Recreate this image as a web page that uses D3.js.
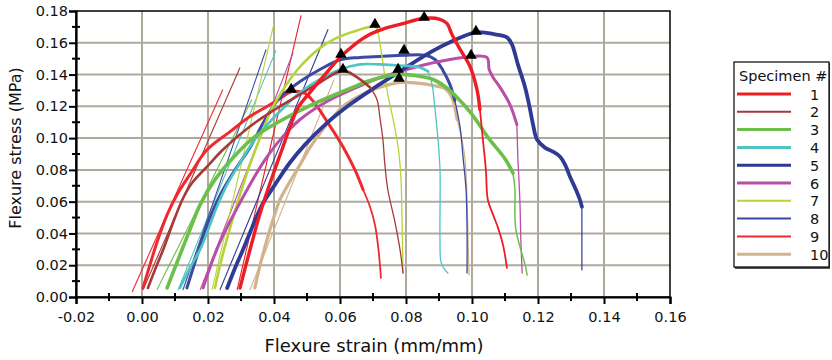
<!DOCTYPE html>
<html>
<head>
<meta charset="utf-8">
<script src="https://cdn.jsdelivr.net/npm/d3@7"></script>
<style>
  body { margin: 0; background: #fff; }
  text { font-family: "DejaVu Sans", Verdana, sans-serif; fill: #111; }
</style>
</head>
<body>
<div id="canvas"></div>
<script>
"use strict"

// tick labels and specimen names
const xTicks = [-0.02, 0.00, 0.02, 0.04, 0.06, 0.08, 0.10, 0.12, 0.14, 0.16];
const yTicks = [0.00, 0.02, 0.04, 0.06, 0.08, 0.10, 0.12, 0.14, 0.16, 0.18];
const specimens = ["1", "2", "3", "4", "5", "6", "7", "8", "9", "10"];

// stress-strain curves, [strain, stress]
const curve1 = [[0.0297,0.0057],[0.0315,0.0202],[0.0333,0.0341],[0.0352,0.0486],[0.0373,0.0625],[0.0397,0.0770],[0.0424,0.0927],[0.0448,0.1066],[0.0473,0.1192],[0.0509,0.1287],[0.0555,0.1401],[0.0600,0.1508],[0.0645,0.1590],[0.0691,0.1653],[0.0736,0.1691],[0.0782,0.1716],[0.0855,0.1754],[0.0903,0.1748],[0.0924,0.1722],[0.0939,0.1653],[0.0964,0.1558],[0.0994,0.1451],[0.1015,0.1306],[0.1024,0.1180],[0.1033,0.0991],[0.1042,0.0801],[0.1048,0.0612],[0.1064,0.0517],[0.1079,0.0435],[0.1094,0.0328],[0.1106,0.0183]];
const curve2 = [[0.0018,0.0057],[0.0039,0.0170],[0.0064,0.0297],[0.0100,0.0500],[0.0124,0.0620],[0.0152,0.0719],[0.0197,0.0820],[0.0245,0.0927],[0.0327,0.1073],[0.0403,0.1180],[0.0479,0.1275],[0.0539,0.1350],[0.0609,0.1425],[0.0652,0.1382],[0.0691,0.1319],[0.0712,0.1243],[0.0721,0.1129],[0.0730,0.0991],[0.0736,0.0833],[0.0745,0.0675],[0.0767,0.0467],[0.0782,0.0297],[0.0791,0.0151]];
const curve3 = [[0.0076,0.0057],[0.0109,0.0233],[0.0145,0.0423],[0.0176,0.0580],[0.0221,0.0738],[0.0276,0.0877],[0.0342,0.1009],[0.0427,0.1117],[0.0509,0.1205],[0.0579,0.1268],[0.0630,0.1312],[0.0682,0.1356],[0.0736,0.1388],[0.0776,0.1401],[0.0827,0.1394],[0.0882,0.1369],[0.0918,0.1325],[0.0955,0.1256],[0.1000,0.1150],[0.1050,0.1000],[0.1100,0.0870],[0.1124,0.0780],[0.1130,0.0680],[0.1130,0.0520],[0.1133,0.0423],[0.1148,0.0297],[0.1161,0.0202],[0.1167,0.0139]];
const curve4 = [[0.0115,0.0057],[0.0145,0.0183],[0.0176,0.0297],[0.0206,0.0454],[0.0227,0.0568],[0.0258,0.0707],[0.0297,0.0845],[0.0342,0.0991],[0.0388,0.1104],[0.0433,0.1199],[0.0479,0.1287],[0.0539,0.1369],[0.0600,0.1432],[0.0661,0.1464],[0.0721,0.1464],[0.0782,0.1457],[0.0842,0.1445],[0.0867,0.1420],[0.0879,0.1338],[0.0888,0.1180],[0.0897,0.0991],[0.0903,0.0801],[0.0903,0.0360],[0.0906,0.0221],[0.0918,0.0170],[0.0927,0.0151]];
const curve5 = [[0.0258,0.0057],[0.0282,0.0183],[0.0306,0.0297],[0.0333,0.0435],[0.0364,0.0580],[0.0403,0.0707],[0.0448,0.0845],[0.0494,0.0959],[0.0555,0.1085],[0.0630,0.1211],[0.0706,0.1319],[0.0782,0.1420],[0.0858,0.1521],[0.0933,0.1603],[0.1012,0.1666],[0.1070,0.1653],[0.1106,0.1634],[0.1121,0.1590],[0.1139,0.1464],[0.1161,0.1319],[0.1176,0.1180],[0.1185,0.1085],[0.1197,0.0991],[0.1221,0.0940],[0.1245,0.0915],[0.1267,0.0883],[0.1282,0.0833],[0.1297,0.0757],[0.1315,0.0675],[0.1327,0.0612],[0.1333,0.0568],[0.1333,0.0360],[0.1333,0.0170]];
const curve6 = [[0.0185,0.0057],[0.0212,0.0221],[0.0242,0.0372],[0.0282,0.0536],[0.0327,0.0707],[0.0373,0.0864],[0.0424,0.1003],[0.0479,0.1117],[0.0555,0.1224],[0.0630,0.1300],[0.0706,0.1369],[0.0782,0.1420],[0.0873,0.1470],[0.0973,0.1508],[0.1045,0.1508],[0.1052,0.1432],[0.1064,0.1382],[0.1085,0.1319],[0.1115,0.1211],[0.1136,0.1085],[0.1139,0.0877],[0.1145,0.0612],[0.1148,0.0360],[0.1152,0.0151]];
const curve7 = [[0.0221,0.0057],[0.0242,0.0246],[0.0267,0.0435],[0.0297,0.0644],[0.0327,0.0833],[0.0358,0.1003],[0.0388,0.1161],[0.0424,0.1293],[0.0464,0.1413],[0.0509,0.1514],[0.0555,0.1590],[0.0600,0.1640],[0.0652,0.1678],[0.0706,0.1703],[0.0715,0.1672],[0.0724,0.1558],[0.0733,0.1432],[0.0745,0.1274],[0.0758,0.1148],[0.0770,0.1022],[0.0779,0.0896],[0.0785,0.0738],[0.0788,0.0486],[0.0791,0.0151]];
const curve8 = [[0.0136,0.0057],[0.0161,0.0221],[0.0185,0.0379],[0.0212,0.0530],[0.0242,0.0662],[0.0282,0.0801],[0.0327,0.0940],[0.0373,0.1117],[0.0418,0.1256],[0.0479,0.1356],[0.0539,0.1432],[0.0603,0.1495],[0.0661,0.1508],[0.0721,0.1514],[0.0794,0.1521],[0.0858,0.1521],[0.0888,0.1495],[0.0912,0.1426],[0.0933,0.1338],[0.0948,0.1237],[0.0964,0.1066],[0.0973,0.0877],[0.0982,0.0675],[0.0985,0.0423],[0.0985,0.0151]];
const curve9 = [[0.0003,0.0057],[0.0024,0.0202],[0.0048,0.0360],[0.0076,0.0517],[0.0106,0.0644],[0.0145,0.0770],[0.0197,0.0927],[0.0267,0.1041],[0.0327,0.1136],[0.0379,0.1199],[0.0418,0.1249],[0.0455,0.1293],[0.0494,0.1281],[0.0524,0.1218],[0.0561,0.1104],[0.0609,0.0946],[0.0645,0.0801],[0.0670,0.0675],[0.0691,0.0568],[0.0706,0.0454],[0.0715,0.0328],[0.0721,0.0202],[0.0724,0.0120]];
const curve10 = [[0.0342,0.0057],[0.0358,0.0202],[0.0376,0.0341],[0.0397,0.0486],[0.0418,0.0612],[0.0448,0.0726],[0.0479,0.0833],[0.0509,0.0940],[0.0555,0.1073],[0.0609,0.1199],[0.0661,0.1268],[0.0700,0.1306],[0.0752,0.1338],[0.0782,0.1350],[0.0842,0.1344],[0.0882,0.1331],[0.0918,0.1312],[0.0939,0.1256],[0.0955,0.1117],[0.0970,0.0984],[0.0979,0.0864],[0.0985,0.0612],[0.0988,0.0360],[0.0991,0.0139]];
const curves = [curve1, curve2, curve3, curve4, curve5, curve6, curve7, curve8, curve9, curve10];

// straight modulus fit lines, [strain, stress] at each end
const modStart = [[0.0288,0.0044],[0.0003,0.0044],[0.0045,0.0044],[0.0109,0.0044],[0.0236,0.0044],[0.0176,0.0044],[0.0212,0.0044],[0.0124,0.0044],[-0.0030,0.0032],[0.0327,0.0044]];
const modEnd = [[0.0482,0.1773],[0.0297,0.1445],[0.0333,0.1243],[0.0406,0.1552],[0.0564,0.1685],[0.0458,0.1539],[0.0400,0.1722],[0.0376,0.1558],[0.0245,0.1306],[0.0582,0.1369]];

// peak markers
const peakStrain = [0.0855, 0.0609, 0.0776, 0.0603, 0.1012, 0.0997, 0.0706, 0.0794, 0.0452, 0.0779];
const peakStress = [0.1760, 0.1432, 0.1432, 0.1527, 0.1672, 0.1521, 0.1716, 0.1552, 0.1306, 0.1375];

// styles
const colors = ["#ee1d23", "#a8383a", "#6cc04a", "#4fc4c4", "#2e3a96", "#b94ea8", "#b6d43a", "#3a4aa0", "#ee2a30", "#d2b48c"];
const curveWidth = [3.4, 2.6, 3.6, 2.6, 3.8, 3, 2.6, 3, 3, 3.2];
const tailWidth = [1.8, 1.3, 1.5, 1.3, 1.2, 1.3, 1.3, 1.3, 1.8, 1.3];
const tailFrom = [23, 14, 21, 17, 30, 19, 14, 19, 17, 18];   // index where the thin break-off part begins
const legendWidth = [3, 2, 3, 3, 3, 3, 2, 2, 2, 3];

const W = 832, H = 360;
const mLeft = 76, mRight = 670, mTop = 11, mBottom = 297;

let svg = d3.select("#canvas")
    .append("svg")
    .attr("width", W)
    .attr("height", H);

let x = d3.scaleLinear().domain([-0.02, 0.16]).range([mLeft, mRight]);
let y = d3.scaleLinear().domain([0, 0.18]).range([mBottom, mTop]);

// grid
svg.append("g")
    .selectAll("line")
    .data(xTicks.slice(1, -1))
    .join("line")
    .attr("x1", d => x(d)).attr("x2", d => x(d))
    .attr("y1", mTop).attr("y2", mBottom)
    .attr("stroke", "#aeaa9c")
    .attr("stroke-width", 2);
svg.append("g")
    .selectAll("line")
    .data(yTicks.slice(1, -1))
    .join("line")
    .attr("x1", mLeft).attr("x2", mRight)
    .attr("y1", d => y(d)).attr("y2", d => y(d))
    .attr("stroke", "#aeaa9c")
    .attr("stroke-width", 2);

// modulus lines
let plot = svg.append("g");
plot.append("g").selectAll("line")
    .data(specimens)
    .join("line")
    .attr("x1", (d, i) => x(modStart[i][0]))
    .attr("y1", (d, i) => y(modStart[i][1]))
    .attr("x2", (d, i) => x(modEnd[i][0]))
    .attr("y2", (d, i) => y(modEnd[i][1]))
    .attr("stroke", (d, i) => colors[i])
    .attr("stroke-width", 1.1);

// curves, drawn so specimen 1 ends on top
let line = d3.line()
    .x(d => x(d[0]))
    .y(d => y(d[1]))
    .curve(d3.curveCatmullRom.alpha(0.5));
let order = d3.range(9, -1, -1);
let cg = plot.append("g").selectAll("g")
    .data(order)
    .join("g")
    .attr("fill", "none")
    .attr("stroke", i => colors[i])
    .attr("stroke-linejoin", "round")
    .attr("stroke-linecap", "round");
cg.append("path")
    .attr("d", i => line(curves[i].slice(tailFrom[i])))
    .attr("stroke-width", i => tailWidth[i]);
cg.append("path")
    .attr("d", i => line(curves[i].slice(0, tailFrom[i] + 1)))
    .attr("stroke-width", i => curveWidth[i]);

// peak triangles
plot.append("g").selectAll("path")
    .data(specimens)
    .join("path")
    .attr("d", d3.symbol(d3.symbolTriangle).size(58))
    .attr("transform", (d, i) => `translate(${x(peakStrain[i])},${y(peakStress[i])})`)
    .attr("fill", "#000");

// frame
svg.append("rect")
    .attr("x", mLeft).attr("y", mTop)
    .attr("width", mRight - mLeft).attr("height", mBottom - mTop)
    .attr("fill", "none")
    .attr("stroke", "#000")
    .attr("stroke-width", 1.5);

// axes
let xAxis = svg.append("g")
    .attr("transform", `translate(0,${mBottom})`)
    .call(d3.axisBottom(x).tickValues(xTicks).tickSize(7).tickPadding(8).tickFormat(d => d.toFixed(2)));
let yAxis = svg.append("g")
    .attr("transform", `translate(${mLeft},0)`)
    .call(d3.axisLeft(y).tickValues(yTicks).tickSize(7).tickPadding(1).tickFormat(d => d.toFixed(2)));
[xAxis, yAxis].forEach(a => {
    a.select(".domain").attr("stroke", "#000").attr("stroke-width", 2.2);
    a.selectAll(".tick line").attr("stroke", "#000").attr("stroke-width", 2);
    a.selectAll(".tick text")
        .attr("font-family", "DejaVu Sans, Verdana, sans-serif")
        .attr("font-size", 14.5)
        .attr("fill", "#111");
});

// minor ticks crossing the axes
let xMinor = d3.range(-0.01, 0.16, 0.02);
let yMinor = d3.range(0.01, 0.18, 0.02);
svg.append("g").selectAll("line")
    .data(xMinor)
    .join("line")
    .attr("x1", d => x(d)).attr("x2", d => x(d))
    .attr("y1", mBottom - 4).attr("y2", mBottom + 4)
    .attr("stroke", "#000").attr("stroke-width", 2);
svg.append("g").selectAll("line")
    .data(yMinor)
    .join("line")
    .attr("x1", mLeft - 4).attr("x2", mLeft + 4)
    .attr("y1", d => y(d)).attr("y2", d => y(d))
    .attr("stroke", "#000").attr("stroke-width", 2);

// axis titles
svg.append("text")
    .attr("x", 374)
    .attr("y", 352)
    .attr("text-anchor", "middle")
    .attr("font-size", 18)
    .text("Flexure strain (mm/mm)");
svg.append("text")
    .attr("transform", "translate(21,148) rotate(-90)")
    .attr("text-anchor", "middle")
    .attr("font-size", 16)
    .text("Flexure stress (MPa)");

// legend
let lg = svg.append("g").attr("transform", "translate(734,62)");
lg.append("rect")
    .attr("x", 1).attr("y", 1)
    .attr("width", 95).attr("height", 206)
    .attr("fill", "#555");
lg.append("rect")
    .attr("width", 95).attr("height", 205)
    .attr("fill", "#fff")
    .attr("stroke", "#000")
    .attr("stroke-width", 1.2);
lg.append("text")
    .attr("x", 5).attr("y", 19)
    .attr("font-size", 14.5)
    .text("Specimen #");
let items = lg.selectAll("g.item")
    .data(specimens)
    .join("g")
    .attr("class", "item")
    .attr("transform", (d, i) => `translate(0,${32 + i * 17.8})`);
items.append("line")
    .attr("x1", 3).attr("x2", 57)
    .attr("stroke", (d, i) => colors[i])
    .attr("stroke-width", (d, i) => legendWidth[i]);
items.append("text")
    .attr("x", 76).attr("y", 5.5)
    .attr("font-size", 14.5)
    .text(d => d);
</script>
</body>
</html>
